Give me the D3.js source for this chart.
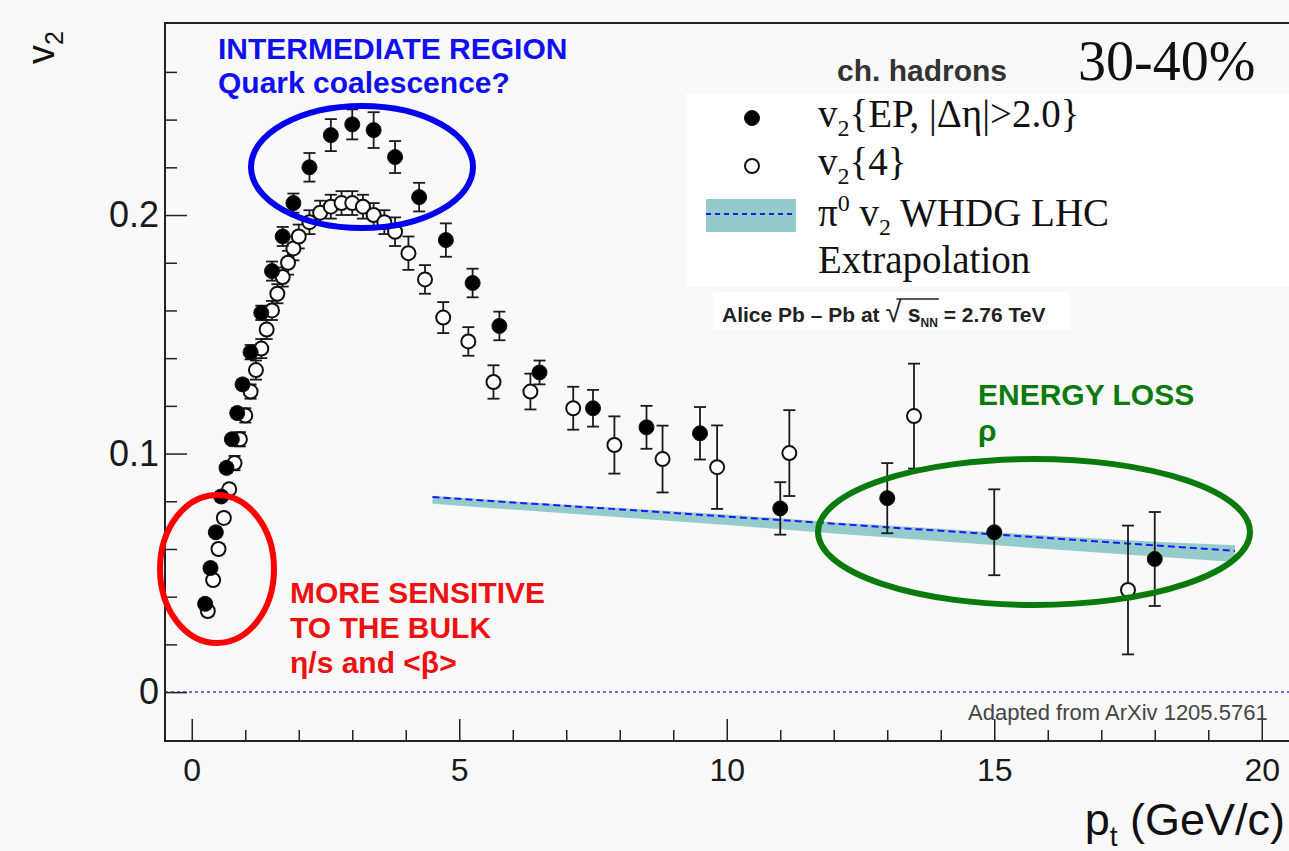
<!DOCTYPE html>
<html><head><meta charset="utf-8">
<script src="https://cdn.jsdelivr.net/npm/d3@7"></script>
<style>
html,body{margin:0;padding:0;background:#f9f9f9;}
svg{display:block;}
</style></head>
<body>
<svg id="chart" width="1289" height="851"></svg>
<script>
// ---------------- data ----------------
const epPt  = [0.25,0.35,0.45,0.55,0.65,0.75,0.85,0.95,1.1,1.3,1.5,1.7,1.9,2.2,2.6,3.0,3.4,3.8,4.25,4.75,5.25,5.75,6.5,7.5,8.5,9.5,11,13,15,18];
const epV2  = [0.037,0.052,0.067,0.082,0.094,0.106,0.117,0.129,0.1425,0.159,0.1765,0.191,0.205,0.220,0.2335,0.238,0.2356,0.2243,0.2075,0.1895,0.1715,0.1535,0.134,0.119,0.111,0.1085,0.077,0.0813,0.067,0.0558];
const epErr = [0.002,0.002,0.002,0.002,0.002,0.002,0.002,0.002,0.003,0.003,0.004,0.004,0.004,0.006,0.0067,0.0063,0.0075,0.0067,0.006,0.007,0.006,0.006,0.005,0.0077,0.009,0.011,0.011,0.0147,0.018,0.0197];

const c4Pt  = [0.3,0.4,0.5,0.6,0.7,0.8,0.9,1.0,1.1,1.2,1.3,1.4,1.5,1.6,1.7,1.8,1.9,2.0,2.2,2.4,2.6,2.8,3.0,3.2,3.4,3.6,3.8,4.05,4.36,4.7,5.17,5.64,6.33,7.13,7.9,8.8,9.82,11.17,13.5,17.5];
const c4V2  = [0.034,0.047,0.060,0.073,0.085,0.096,0.106,0.116,0.126,0.135,0.144,0.152,0.160,0.167,0.174,0.180,0.186,0.191,0.197,0.201,0.2035,0.205,0.205,0.2035,0.200,0.197,0.193,0.184,0.173,0.157,0.147,0.130,0.126,0.119,0.1036,0.0977,0.0943,0.1002,0.1157,0.0428];
const c4Err = [0.002,0.002,0.002,0.002,0.002,0.003,0.003,0.003,0.003,0.004,0.004,0.004,0.004,0.004,0.004,0.005,0.005,0.005,0.005,0.005,0.005,0.005,0.005,0.005,0.005,0.005,0.006,0.007,0.006,0.0065,0.006,0.007,0.0075,0.009,0.012,0.014,0.0175,0.018,0.022,0.027];

const bandPt  = [4.5,6,8,10,12,14,16,18,19.5];
const bandMid = [0.0818,0.0795,0.0766,0.0736,0.0706,0.0676,0.0646,0.0615,0.0592];
const bandLo  = [0.0790,0.0765,0.0733,0.0700,0.0665,0.0632,0.0600,0.0568,0.0545];
const bandHi  = [0.0823,0.0800,0.0772,0.0745,0.0712,0.0685,0.0655,0.0630,0.0616];

const xMajor = [0,5,10,15,20];
const xMinor = [1,2,3,4,6,7,8,9,11,12,13,14,16,17,18,19];
const yMajor = [0,0.1,0.2];
const yMinor = [0.02,0.04,0.06,0.08,0.12,0.14,0.16,0.18,0.22,0.24,0.26];

// ---------------- setup ----------------
const svg = d3.select("#chart");
const SANS = "'Liberation Sans', Arial, Helvetica, sans-serif";
const SERIF = "'Liberation Serif', 'Times New Roman', serif";
const L=165, T=23, R=1289, B=741;
const x = d3.scaleLinear().domain([-0.5,20.5]).range([L,1288.5]);
const y = d3.scaleLinear().domain([-0.0205,0.2805]).range([B,T]);

svg.append("rect").attr("width",1289).attr("height",851).attr("fill","#f9f9f9");

// theory band
const band = bandPt.map((p,i)=>({p,lo:bandLo[i],hi:bandHi[i],mid:bandMid[i]}));
svg.append("path").datum(band)
  .attr("d", d3.area().x(d=>x(d.p)).y0(d=>y(d.lo)).y1(d=>y(d.hi)))
  .attr("fill","#96cbcb");
svg.append("path").datum(band)
  .attr("d", d3.line().x(d=>x(d.p)).y(d=>y(d.mid)))
  .attr("fill","none").attr("stroke","#1a1aff").attr("stroke-width",2).attr("stroke-dasharray","7,4");

// zero line
svg.append("line").attr("x1",x(-0.5)).attr("x2",R).attr("y1",y(0)).attr("y2",y(0))
  .attr("stroke","#4444cc").attr("stroke-width",1.5).attr("stroke-dasharray","3,3");

// axes
const gx = svg.append("g").attr("transform",`translate(0,${B})`);
gx.call(d3.axisBottom(x).tickValues(xMajor).tickSize(-22).tickPadding(17).tickFormat(d3.format("d")));
const gxm = svg.append("g").attr("transform",`translate(0,${B})`);
gxm.call(d3.axisBottom(x).tickValues(xMinor).tickSize(-11).tickFormat(""));
const gy = svg.append("g").attr("transform",`translate(${L},0)`);
gy.call(d3.axisLeft(y).tickValues(yMajor).tickSize(-22).tickPadding(6).tickFormat(d=>d===0?"0":d3.format(".1f")(d)));
const gym = svg.append("g").attr("transform",`translate(${L},0)`);
gym.call(d3.axisLeft(y).tickValues(yMinor).tickSize(-12).tickFormat(""));
[gx,gxm,gy,gym].forEach(g=>{
  g.select(".domain").remove();
  g.selectAll(".tick line").attr("stroke","#222").attr("stroke-width",1.5);
  g.selectAll(".tick text").attr("fill","#1a1a1a").style("font-family",SANS);
});
gx.selectAll(".tick text").style("font-size","32px");
gy.selectAll(".tick text").style("font-size","36px");

// frame
svg.append("rect").attr("x",L).attr("y",T).attr("width",R-L+5).attr("height",B-T)
  .attr("fill","none").attr("stroke","#222").attr("stroke-width",2);

// data: error bars + markers
function drawSeries(pts,vals,errs,filled){
  const d = pts.map((p,i)=>({p,v:vals[i],e:errs[i]}));
  const g = svg.append("g");
  const eb = g.selectAll("g.eb").data(d).join("g").attr("stroke","#1a1a1a").attr("stroke-width",1.8);
  eb.append("line").attr("x1",d=>x(d.p)).attr("x2",d=>x(d.p)).attr("y1",d=>y(d.v-d.e)).attr("y2",d=>y(d.v+d.e));
  eb.append("line").attr("x1",d=>x(d.p)-6).attr("x2",d=>x(d.p)+6).attr("y1",d=>y(d.v-d.e)).attr("y2",d=>y(d.v-d.e));
  eb.append("line").attr("x1",d=>x(d.p)-6).attr("x2",d=>x(d.p)+6).attr("y1",d=>y(d.v+d.e)).attr("y2",d=>y(d.v+d.e));
  g.selectAll("circle").data(d).join("circle")
    .attr("cx",d=>x(d.p)).attr("cy",d=>y(d.v))
    .attr("r",filled?7.5:7)
    .attr("fill",filled?"#000":"#fff")
    .attr("stroke","#111").attr("stroke-width",filled?1:2);
}
drawSeries(c4Pt,c4V2,c4Err,false);
drawSeries(epPt,epV2,epErr,true);

// ellipses
svg.append("ellipse").attr("cx",362).attr("cy",167).attr("rx",111).attr("ry",61)
  .attr("fill","none").attr("stroke","#0000ee").attr("stroke-width",6);
svg.append("ellipse").attr("cx",217).attr("cy",569).attr("rx",57).attr("ry",74)
  .attr("fill","none").attr("stroke","#ff0000").attr("stroke-width",6);
svg.append("ellipse").attr("cx",1034).attr("cy",532).attr("rx",216).attr("ry",73)
  .attr("fill","none").attr("stroke","#0a7a0a").attr("stroke-width",6);

// annotations
function lines(xp, ys, txt, color, size){
  txt.forEach((t,i)=>svg.append("text").attr("x",xp).attr("y",ys[i]).text(t)
    .attr("fill",color).style("font-family",SANS).style("font-weight","bold").style("font-size",size+"px"));
}
lines(218,[59,93],["INTERMEDIATE REGION","Quark coalescence?"],"#1010ee",30);
lines(290,[603,638],["MORE SENSITIVE","TO THE BULK"],"#ee1111",30);
lines(290,[673],["η/s and <β>"],"#ee1111",30);
lines(978,[405,441],["ENERGY LOSS","ρ"],"#0a7a0a",30);

// legend
svg.append("text").attr("x",837).attr("y",81).text("ch. hadrons")
  .attr("fill","#333").style("font-family",SANS).style("font-weight","bold").style("font-size","30px");
svg.append("text").attr("x",1078).attr("y",80).text("30-40%")
  .attr("fill","#111").style("font-family",SERIF).style("font-size","56px");
svg.append("rect").attr("x",686).attr("y",93).attr("width",603).attr("height",194).attr("fill","#fff");
svg.append("circle").attr("cx",752).attr("cy",118).attr("r",7.5).attr("fill","#000").attr("stroke","#111");
svg.append("circle").attr("cx",752).attr("cy",166).attr("r",7).attr("fill","#fff").attr("stroke","#111").attr("stroke-width",2);
svg.append("rect").attr("x",706).attr("y",199).attr("width",90).attr("height",33).attr("fill","#96cbcb");
svg.append("line").attr("x1",706).attr("x2",796).attr("y1",214).attr("y2",214)
  .attr("stroke","#1a1aff").attr("stroke-width",2).attr("stroke-dasharray","5,4");

function legText(yp, parts){
  const t = svg.append("text").attr("x",818).attr("y",yp).attr("fill","#111")
    .style("font-family",SERIF).style("font-size","39px");
  parts.forEach(p=>{
    const ts = t.append("tspan").text(p.t);
    if(p.dy) ts.attr("dy",p.dy);
    if(p.fs) ts.style("font-size",p.fs+"px");
  });
}
legText(127,[{t:"v"},{t:"2",dy:9,fs:24},{t:"{EP, |Δη|>2.0}",dy:-9}]);
legText(175,[{t:"v"},{t:"2",dy:9,fs:24},{t:"{4}",dy:-9}]);
legText(226,[{t:"π"},{t:"0",dy:-15,fs:24},{t:" v",dy:15},{t:"2",dy:9,fs:24},{t:" WHDG LHC",dy:-9}]);
legText(273,[{t:"Extrapolation"}]);

// Alice label
svg.append("rect").attr("x",713).attr("y",292).attr("width",357).attr("height",38).attr("fill","#fff");
const alice = svg.append("text").attr("x",722).attr("y",322).attr("fill","#222")
  .style("font-family",SANS).style("font-weight","bold").style("font-size","21px");
alice.append("tspan").text("Alice Pb – Pb at ");
alice.append("tspan").text("√").style("font-weight","normal").style("font-size","29px");
alice.append("tspan").text(" s").style("font-size","23px");
alice.append("tspan").text("NN").attr("dy",5).style("font-size","12px");
alice.append("tspan").text("  = 2.76 TeV").attr("dy",-5);
// overline of the root
(function(){
  const node = alice.node();
  const n0 = "Alice Pb – Pb at ".length;
  const st = node.getStartPositionOfChar(n0);
  const endNN = node.getEndPositionOfChar(n0+4);
  svg.append("line").attr("x1",st.x+11).attr("x2",endNN.x+1).attr("y1",299).attr("y2",299)
    .attr("stroke","#222").attr("stroke-width",1.6);
})();

// adapted text
svg.append("text").attr("x",968).attr("y",720).text("Adapted from ArXiv 1205.5761")
  .attr("fill","#444").style("font-family",SANS).style("font-size","22px");

// axis titles
const yt = svg.append("text").attr("transform","translate(54,64) rotate(-90)")
  .attr("fill","#111").style("font-family",SANS).style("font-size","38px");
yt.append("tspan").text("v");
yt.append("tspan").text("2").attr("dy",9).style("font-size","25px");

const xt = svg.append("text").attr("x",1285).attr("y",835).attr("text-anchor","end")
  .attr("fill","#111").style("font-family",SANS).style("font-size","45px");
xt.append("tspan").text("p");
xt.append("tspan").text("t").attr("dy",11).style("font-size","28px");
xt.append("tspan").text(" (GeV/c)").attr("dy",-11);
</script>
</body></html>
